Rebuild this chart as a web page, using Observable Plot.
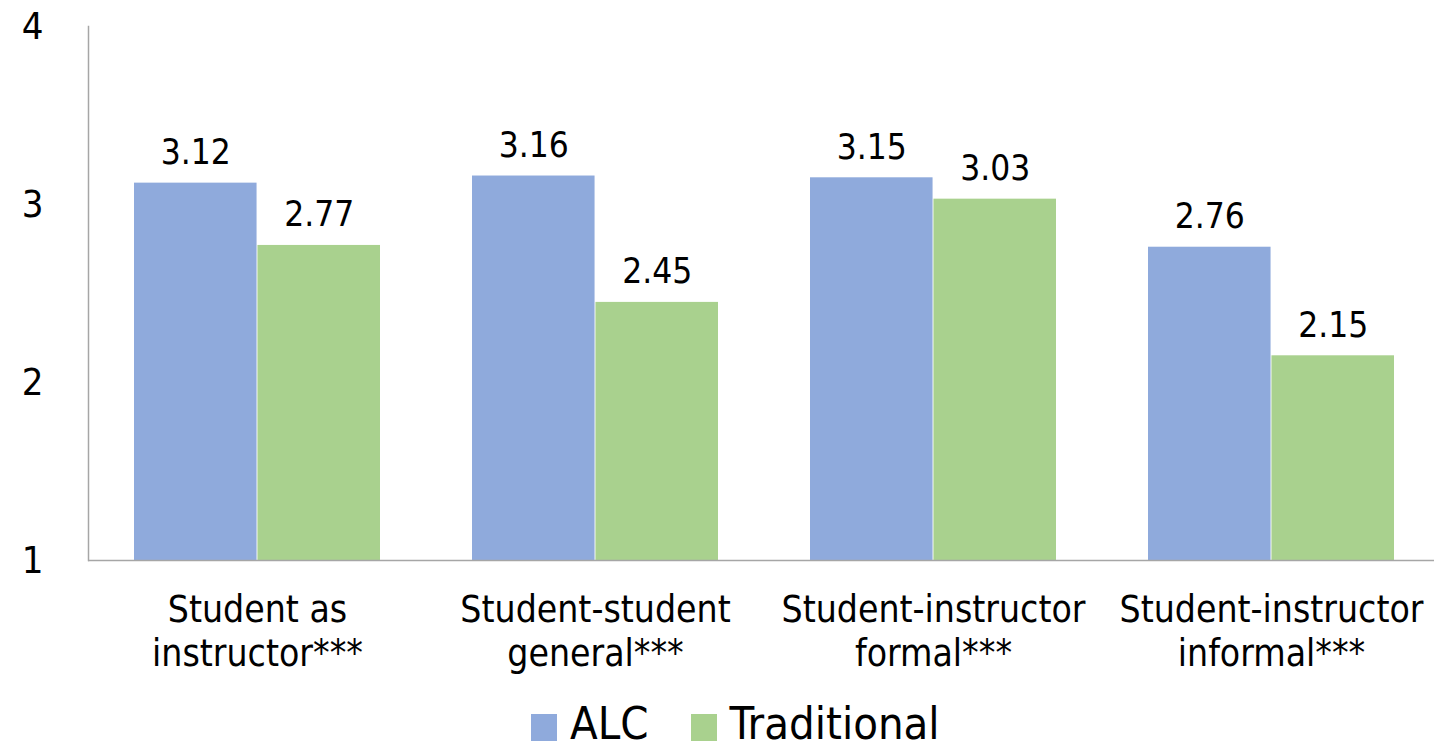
<!DOCTYPE html>
<html><head><meta charset="utf-8">
<script src="https://cdn.jsdelivr.net/npm/d3@7"></script>
<script src="https://cdn.jsdelivr.net/npm/@observablehq/plot@0.6"></script>
<style>
body{margin:0;background:#fff;overflow:hidden;font-family:"DejaVu Sans Condensed","DejaVu Sans",sans-serif;font-stretch:condensed;color:#000}
#chart{position:relative;width:1434px;height:750px}
#legend{position:absolute;left:531px;top:698px;height:50px;display:flex;align-items:center;font-size:45px;line-height:1}
.sw{width:26px;height:27px;display:inline-block;margin-right:13px;margin-top:8px}
.item{display:flex;align-items:center;margin-right:42px}
</style></head>
<body><div id="chart"></div>
<script>
const categories = ["Student as\ninstructor***","Student-student\ngeneral***","Student-instructor\nformal***","Student-instructor\ninformal***"];
const series = ["ALC","Traditional"];
const alcValues = [3.12,3.16,3.15,2.76];
const traditionalValues = [2.77,2.45,3.03,2.15];
const yTicks = [1,2,3,4];
const seriesColors = ["#8faadc","#a9d18e"];

const font = '"DejaVu Sans Condensed","DejaVu Sans",sans-serif';
const alcRows = categories.map((c,i)=>({category:c, series:series[0], value:alcValues[i]}));
const tradRows = categories.map((c,i)=>({category:c, series:series[1], value:traditionalValues[i]}));

const xRange = [88, 1441];
const band = d3.scaleBand(categories, xRange).paddingInner(0.271).paddingOuter(0.133);
const half = band.bandwidth()/2;

const chart = Plot.plot({
  width: 1434, height: 690,
  marginLeft: 88, marginRight: 0, marginTop: 26, marginBottom: 130,
  style: {fontFamily: font, fontStretch: "condensed", color: "#000", background: "#fff"},
  x: {domain: categories, range: xRange, paddingInner: 0.271, paddingOuter: 0.133, label: null},
  y: {domain: [1,4], label: null},
  color: {domain: series, range: seriesColors},
  marks: [
    Plot.barY(alcRows, {x:"category", y1: 1, y2:"value", fill:"series", insetRight: half}),
    Plot.barY(tradRows, {x:"category", y1: 1, y2:"value", fill:"series", insetLeft: half}),
    Plot.text(alcRows, {x:"category", y:"value", text:d=>d.value.toFixed(2), dx:-half/2, dy:-19, lineAnchor:"bottom", fontSize:35, fill:"#000"}),
    Plot.text(tradRows, {x:"category", y:"value", text:d=>d.value.toFixed(2), dx:half/2, dy:-19, lineAnchor:"bottom", fontSize:35, fill:"#000"}),
    Plot.ruleY([1], {stroke:"#a6a6a6", strokeWidth:1.5}),
    Plot.frame({anchor:"left", stroke:"#a6a6a6", strokeWidth:1.5}),
    Plot.axisY({ticks: yTicks, tickSize:0, tickPadding:45, fontSize:38, label:null, tickFormat:d=>String(d)}),
    Plot.axisX({tickSize:0, tickPadding:30, fontSize:37, lineHeight:1.19, label:null})
  ]
});
const root = document.getElementById("chart");
root.appendChild(chart);

const legend = document.createElement("div");
legend.id = "legend";
series.forEach((s,i)=>{
  const item = document.createElement("div");
  item.className = "item";
  const sw = document.createElement("span");
  sw.className = "sw"; sw.style.background = seriesColors[i];
  const t = document.createElement("span"); t.textContent = s;
  item.appendChild(sw); item.appendChild(t);
  legend.appendChild(item);
});
root.appendChild(legend);
</script></body></html>
